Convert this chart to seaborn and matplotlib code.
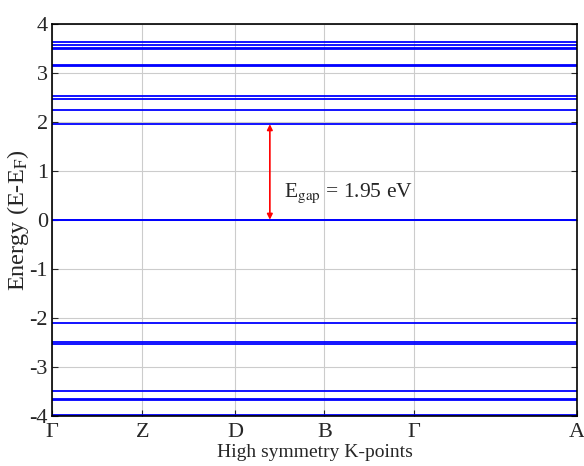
"""Band structure plot (flat bands) with band gap annotation."""

import matplotlib
matplotlib.use('Agg')
import pandas as pd
import matplotlib.pyplot as plt
import seaborn as sns

# high-symmetry path positions (normalised k-distance) and labels
k_nodes = [0.0, 0.172, 0.349, 0.519, 0.690, 1.0]
k_labels = ['Γ', 'Z', 'D', 'B', 'Γ', 'A']

# band energies (eV, relative to E_F)
conduction_bands = [3.62, 3.57, 3.50, 3.48, 3.16, 3.14, 2.53, 2.46, 2.23, 1.95]
valence_bands = [0.0, -0.01, -2.10, -2.50, -2.53, -3.50, -3.65, -3.69, -3.99]

gap_value = 1.95
gap_k = 0.415

sns.set_style('whitegrid')
plt.rcParams['font.family'] = ['Liberation Serif', 'DejaVu Serif']
plt.rcParams['mathtext.fontset'] = 'stix'
plt.rcParams['axes.unicode_minus'] = False

# long-form table: one row per (band, k-node)
rows = []
for i, e in enumerate(conduction_bands + valence_bands):
    for k in k_nodes:
        rows.append({'band': i, 'k': k, 'energy': e})
df = pd.DataFrame(rows)

fig = plt.figure(figsize=(5.84, 4.66), dpi=100)
ax = fig.add_axes([0.089, 0.108, 0.899, 0.841])

sns.lineplot(data=df, x='k', y='energy', units='band', estimator=None,
             color='#0000ff', linewidth=1.3, ax=ax, legend=False)

# band gap arrow and label
ax.annotate('', xy=(gap_k, gap_value), xytext=(gap_k, 0.0),
            arrowprops=dict(arrowstyle='<|-|>', color='red', lw=1.2,
                            mutation_scale=8, shrinkA=0, shrinkB=0))
ax.text(gap_k + 0.026, 0.46, r'E$_{\mathrm{gap}}$ = 1.95 eV', fontsize=15.5)

ax.set_xlim(0, 1)
ax.set_ylim(-4, 4)
ax.set_xticks(k_nodes)
ax.set_xticklabels(k_labels)
ax.set_yticks(range(-4, 5))
ax.grid(True, color='#cccccc', linewidth=0.8)
ax.tick_params(axis='both', direction='in', length=4, labelsize=16,
               right=True, left=True, bottom=True, pad=3)
ax.tick_params(axis='x', pad=5)
for s in ax.spines.values():
    s.set_color('black')
    s.set_linewidth(1.2)

ax.set_xlabel('High symmetry K-points', fontsize=14, labelpad=2)
ax.set_ylabel(r'Energy (E-E$_{\mathrm{F}}$)', fontsize=17.5, labelpad=-1)

fig.savefig('out.png', dpi=100)
